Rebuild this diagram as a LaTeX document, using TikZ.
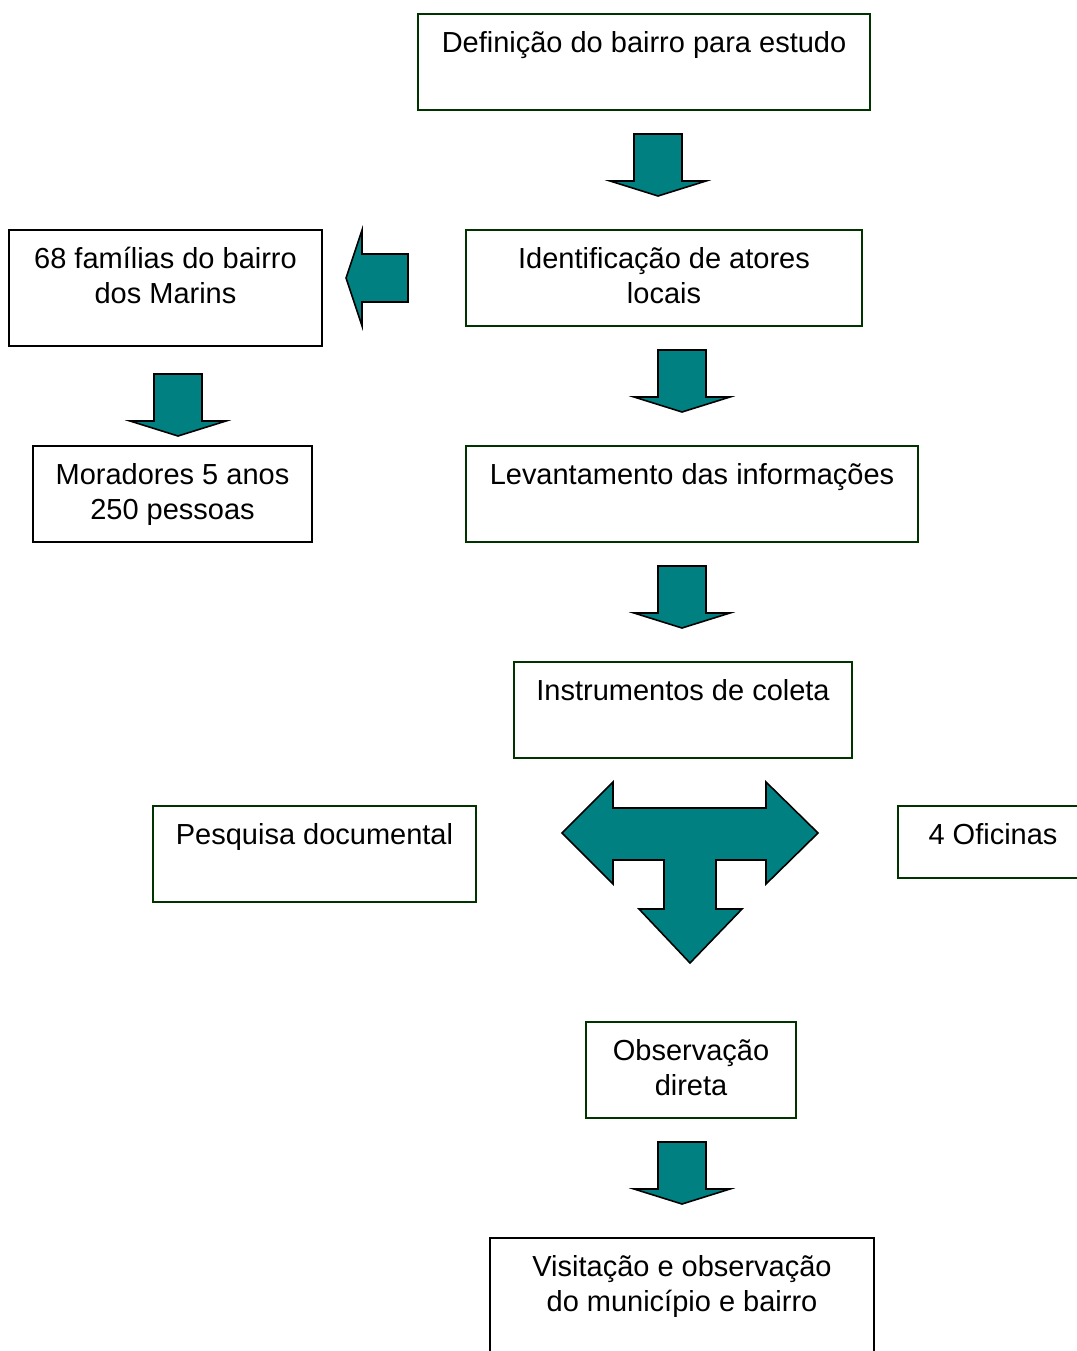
\documentclass[tikz,border=0pt]{standalone}
\usepackage{fontspec}
\setmainfont{Liberation Sans}
\usetikzlibrary{positioning}
\definecolor{boxgreen}{RGB}{0,51,0}
\definecolor{arrowteal}{RGB}{0,128,128}

\tikzset{
	box/.style={rectangle, draw=boxgreen, line width=1.1pt, inner sep=0pt},
	blackbox/.style={box, draw=black},
	boxtext/.style={inner sep=0pt, align=center, font=\fontsize{16.5}{19.9}\selectfont},
	arrowfill/.style={fill=arrowteal, draw=black, line width=0.9pt, line join=miter},
	downarrow/.pic={\draw[arrowfill] (-24,-31) -- (24,-31) -- (24,16) -- (48,16) -- (0,31) -- (-48,16) -- (-24,16) -- cycle;},
	leftarrow/.pic={\draw[arrowfill] (31,-24) -- (31,24) -- (-15,24) -- (-15,48) -- (-31,0) -- (-15,-48) -- (-15,-24) -- cycle;}
}

\begin{document}
\begin{tikzpicture}[x=0.02cm, y=-0.02cm]
	\useasboundingbox (0,0) rectangle (1077,1351);
	
	% Boxes
	\node [box, minimum width=9.04cm, minimum height=1.92cm] at (644,62) (def) {};
	\node [box, minimum width=7.92cm, minimum height=1.92cm] at (664,278) (ident) {};
	\node [blackbox, minimum width=6.26cm, minimum height=2.32cm] at (165.5,288) (fam) {};
	\node [blackbox, minimum width=5.58cm, minimum height=1.92cm] at (172.5,494) (mor) {};
	\node [box, minimum width=9.04cm, minimum height=1.92cm] at (692,494) (lev) {};
	\node [box, minimum width=6.76cm, minimum height=1.92cm] at (683,710) (inst) {};
	\node [box, minimum width=6.46cm, minimum height=1.92cm] at (314.5,854) (pesq) {};
	\node [box, minimum width=3.8cm, minimum height=1.44cm] at (993,842) (ofic) {};
	\node [box, minimum width=4.2cm, minimum height=1.92cm] at (691,1070) (obs) {};
	\node [blackbox, minimum width=7.68cm, minimum height=2.48cm] at (682,1300) (vis) {};
	
	% Texts
	\node [boxtext, below=0.36cm of def.north] (defT) {Definição do bairro para estudo};
	\node [boxtext, below=0.36cm of ident.north] (identT) {Identificação de atores\\locais};
	\node [boxtext, below=0.36cm of fam.north] (famT) {68 famílias do bairro\\dos Marins};
	\node [boxtext, below=0.36cm of mor.north] (morT) {Moradores 5 anos\\250 pessoas};
	\node [boxtext, below=0.36cm of lev.north] (levT) {Levantamento das informações};
	\node [boxtext, below=0.36cm of inst.north] (instT) {Instrumentos de coleta};
	\node [boxtext, below=0.36cm of pesq.north] (pesqT) {Pesquisa documental};
	\node [boxtext, below=0.36cm of ofic.north] (oficT) {4 Oficinas};
	\node [boxtext, below=0.36cm of obs.north] (obsT) {Observação\\direta};
	\node [boxtext, below=0.36cm of vis.north] (visT) {Visitação e observação\\do município e bairro};
	
	% Block arrows
	\pic at (658,165) {downarrow};
	\pic at (682,381) {downarrow};
	\pic at (682,597) {downarrow};
	\pic at (178,405) {downarrow};
	\pic at (682,1173) {downarrow};
	\pic at (377,278) {leftarrow};
	
	% Three-way arrow
	\draw[arrowfill] (562,833) -- (613,782) -- (613,808) -- (766,808) -- (766,782) -- (818,833) -- (766,884) -- (766,860) -- (716,860) -- (716,909) -- (742,909) -- (690,963) -- (639,909) -- (664,909) -- (664,860) -- (613,860) -- (613,884) -- cycle;
\end{tikzpicture}
\end{document}
